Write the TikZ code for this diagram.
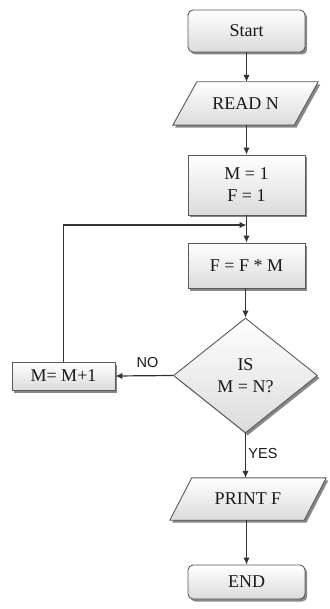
\documentclass[tikz,border=0pt]{standalone}
\usepackage{fontspec}
\setmainfont{Liberation Serif}
\setsansfont{Liberation Sans}
\usetikzlibrary{shapes.geometric,shadows,arrows.meta,backgrounds}
\begin{document}
\begin{tikzpicture}[x=1pt,y=-1pt,
  shapelook/.style={draw=black!65, line width=0.9pt, top color=white, bottom color=black!14,
    drop shadow={shadow xshift=2.2pt,shadow yshift=-2.5pt,fill=black!55,opacity=0.85}},
  boxtext/.style={inner sep=0pt, align=center, text=black!90, font=\fontsize{18}{22}\selectfont},
  box/.style={shapelook, boxtext, minimum width=117pt},
  term/.style={box, rounded corners=5pt},
  paratext/.style={boxtext},
  decision/.style={shape=diamond, shapelook, boxtext, minimum width=144pt, minimum height=115pt},
  conn/.style={draw=black!80, line width=1.2pt, -{Latex[length=7pt,width=6.5pt]}},
  lab/.style={font=\sffamily\fontsize{14.5}{16}\selectfont, text=black!90, inner sep=0pt}
]
\useasboundingbox (0,0) rectangle (329,609);

\node[term, minimum height=42pt] (start) at (246.5,31) {Start};
\node[paratext, minimum width=121pt, minimum height=43pt] (read) at (245.5,103.5) {READ N};
\node[box, minimum height=60pt] (init) at (246.5,185) {M = 1\\F = 1};
\node[box, minimum height=45pt] (ff) at (246.5,265.5) {F = F * M};
\node[decision] (dia) at (245.5,375.5) {IS\\M = N?};
\node[box, minimum width=103pt, minimum height=28pt] (mm) at (63.5,376) {M= M+1};
\node[paratext, minimum width=134pt, minimum height=42pt] (print) at (248,499) {PRINT F};
\node[term, minimum height=34pt] (end) at (246.5,582) {END};

\begin{pgfonlayer}{background}
\path[shapelook] ([xshift=12pt]read.north west) -- ([xshift=12pt]read.north east)
  -- ([xshift=-12pt]read.south east) -- ([xshift=-12pt]read.south west) -- cycle;
\path[shapelook] ([xshift=11pt]print.north west) -- ([xshift=11pt]print.north east)
  -- ([xshift=-11pt]print.south east) -- ([xshift=-11pt]print.south west) -- cycle;
\end{pgfonlayer}

\coordinate (join) at (init.south |- 0,225);

\draw[conn] (start) -- (start.south |- read.north);
\draw[conn] (read.south -| start.south) -- (init.north);
\draw[conn] (init) -- (ff);
\draw[conn] (mm.north) |- (join);
\draw[conn] (ff.south -| dia.north) -- (dia.north);
\draw[conn] (dia.west) -- (mm.east);
\draw[conn] (dia.south) -- (dia.south |- print.north);
\draw[conn] (print.south -| end.north) -- (end.north);

\node[lab] (no) at (147.5,362.5) {NO};
\node[lab] (yes) at (263,453.5) {YES};
\end{tikzpicture}
\end{document}
